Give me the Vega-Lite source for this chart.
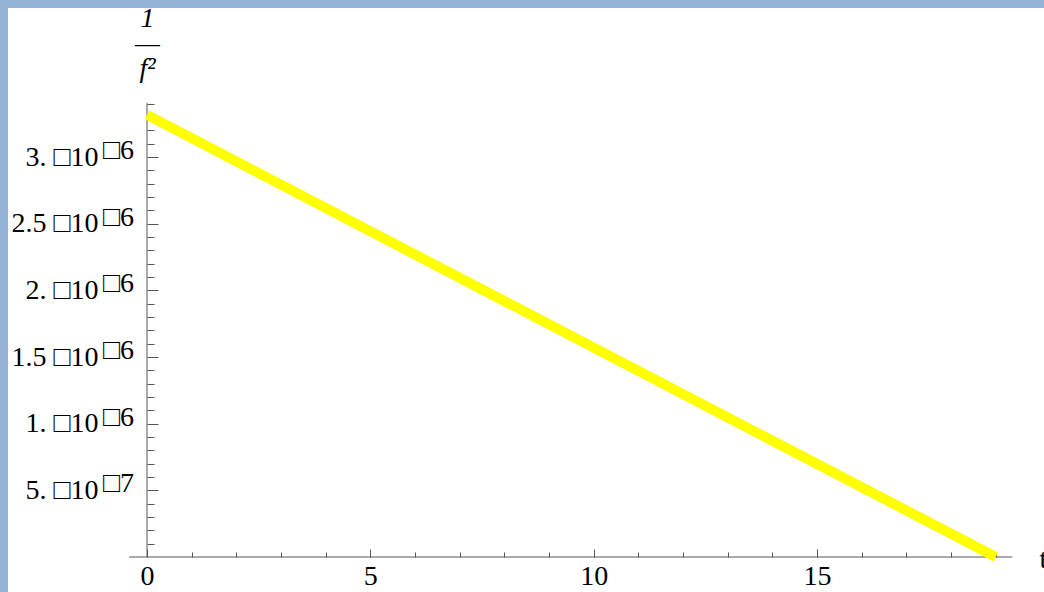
{
  "$schema": "https://vega.github.io/schema/vega-lite/v6.json",
  "width": 1036,
  "height": 584,
  "autosize": {"type": "none"},
  "padding": {"left": 8, "top": 8, "right": 0, "bottom": 0},
  "background": "#95B3D7",
  "config": {
    "view": {"fill": "white", "stroke": null}
  },
  "datasets": {
    "curve": [
      {"t": 0, "inv": 3.316e-6},
      {"t": 19, "inv": 0}
    ],
    "yline": [{"t": 0, "inv": 0, "inv2": 3.405e-6}],
    "xline": [{"t": -0.4, "t2": 19.37, "inv": 0}],
    "sups": [
      {"t": 0, "inv": 3.0e-6, "s": "□6"},
      {"t": 0, "inv": 2.5e-6, "s": "□6"},
      {"t": 0, "inv": 2.0e-6, "s": "□6"},
      {"t": 0, "inv": 1.5e-6, "s": "□6"},
      {"t": 0, "inv": 1.0e-6, "s": "□6"},
      {"t": 0, "inv": 5.0e-7, "s": "□7"}
    ]
  },
  "encoding": {
    "x": {
      "field": "t",
      "type": "quantitative",
      "scale": {"domain": [-3.112, 20.08], "nice": false, "zero": false},
      "axis": {
        "orient": "bottom",
        "offset": -35,
        "domain": false,
        "grid": false,
        "values": [0, 1, 2, 3, 4, 5, 6, 7, 8, 9, 10, 11, 12, 13, 14, 15, 16, 17, 18, 19],
        "tickSize": {"condition": {"test": "datum.value % 5 == 0", "value": -8}, "value": -5},
        "tickColor": "#555555",
        "tickWidth": 1,
        "format": "d",
        "labelExpr": "datum.value % 5 == 0 ? datum.label : ''",
        "labelOverlap": false,
        "labelFlush": false,
        "labelFont": "Liberation Serif",
        "labelFontSize": 28,
        "labelColor": "black",
        "labelPadding": 13,
        "labelBaseline": "top",
        "title": "t",
        "titleFont": "Liberation Serif",
        "titleFontSize": 28,
        "titleFontWeight": "normal",
        "titleColor": "black",
        "titleAngle": 0,
        "titleAlign": "left",
        "titleBaseline": "alphabetic",
        "titleX": 1031,
        "titleY": 10
      }
    },
    "y": {
      "field": "inv",
      "type": "quantitative",
      "scale": {"domain": [-2.625e-7, 4.118e-6], "nice": false, "zero": false},
      "axis": {
        "orient": "left",
        "offset": -139,
        "domain": false,
        "grid": false,
        "values": [1e-7, 2e-7, 3e-7, 4e-7, 5e-7, 6e-7, 7e-7, 8e-7, 9e-7, 1e-6, 1.1e-6, 1.2e-6, 1.3e-6, 1.4e-6, 1.5e-6, 1.6e-6, 1.7e-6, 1.8e-6, 1.9e-6, 2e-6, 2.1e-6, 2.2e-6, 2.3e-6, 2.4e-6, 2.5e-6, 2.6e-6, 2.7e-6, 2.8e-6, 2.9e-6, 3e-6, 3.1e-6, 3.2e-6, 3.3e-6, 3.4e-6],
        "tickSize": {"condition": {"test": "round(datum.value * 1e7) % 5 == 0", "value": -11}, "value": -7},
        "tickColor": "#555555",
        "tickWidth": 1,
        "labelExpr": "round(datum.value * 1e7) % 5 != 0 ? '' : (round(datum.value * 1e7) == 5 ? '5. □10' : (round(datum.value * 1e7) % 10 == 0 ? (round(datum.value * 1e7) / 10) + '. □10' : (round(datum.value * 1e7) / 10) + ' □10'))",
        "labelOverlap": false,
        "labelFlush": false,
        "labelFont": "Liberation Serif",
        "labelFontSize": 28,
        "labelColor": "black",
        "labelPadding": 60,
        "labelAlign": "right",
        "labelBaseline": "middle",
        "title": ["1", "—", "f²"],
        "titleFont": "Liberation Serif",
        "titleFontSize": 28,
        "titleFontWeight": "normal",
        "titleFontStyle": "italic",
        "titleColor": "black",
        "titleAngle": 0,
        "titleAlign": "center",
        "titleBaseline": "alphabetic",
        "titleLineHeight": 25,
        "titleX": 0,
        "titleY": 18
      }
    }
  },
  "layer": [
    {
      "data": {"name": "yline"},
      "mark": {"type": "rule", "color": "#555555", "strokeWidth": 1},
      "encoding": {"y2": {"field": "inv2"}}
    },
    {
      "data": {"name": "xline"},
      "mark": {"type": "rule", "color": "#555555", "strokeWidth": 1},
      "encoding": {"x2": {"field": "t2"}}
    },
    {
      "data": {"name": "curve"},
      "mark": {"type": "line", "color": "#FFFF00", "strokeWidth": 10, "strokeCap": "butt"},
      "encoding": {}
    },
    {
      "data": {"name": "sups"},
      "mark": {"type": "text", "font": "Liberation Serif", "fontSize": 28, "align": "left", "baseline": "middle", "dx": -44, "dy": -6, "color": "black"},
      "encoding": {"text": {"field": "s"}}
    }
  ]
}
